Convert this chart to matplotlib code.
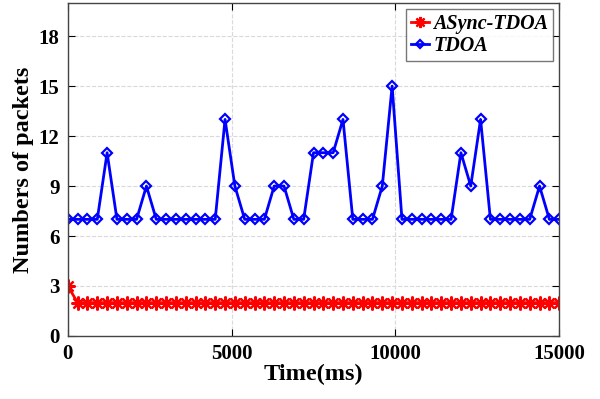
import numpy as np
import matplotlib
matplotlib.use("Agg")
import matplotlib.pyplot as plt

# время, мс (шаг 300)
time_ms = np.arange(0, 15001, 300)

async_tdoa = [3] + [2] * 50
tdoa = [7, 7, 7, 7, 11, 7, 7, 7, 9, 7,
        7, 7, 7, 7, 7, 7, 13, 9, 7, 7,
        7, 9, 9, 7, 7, 11, 11, 11, 13, 7,
        7, 7, 9, 15, 7, 7, 7, 7, 7, 7,
        11, 9, 13, 7, 7, 7, 7, 7, 9, 7,
        7]

plt.rcParams['font.family'] = ['Liberation Serif', 'DejaVu Serif']
plt.rcParams['font.weight'] = 'bold'

fig = plt.figure(figsize=(6, 3.99), dpi=100)
ax = fig.add_axes([0.113, 0.158, 0.819, 0.835])

ax.plot(time_ms, async_tdoa, color='red', lw=2, marker=(8, 2, 0),
        markersize=10, markeredgewidth=1.6, label='ASync-TDOA')
ax.plot(time_ms, tdoa, color='blue', lw=2, marker='D', markersize=5.5,
        markerfacecolor='none', markeredgewidth=1.6, label='TDOA')

ax.set_xlim(0, 15000)
ax.set_ylim(0, 20)
ax.set_xticks([0, 5000, 10000, 15000])
ax.set_yticks(range(0, 19, 3))
ax.tick_params(direction='in', top=True, right=True, labelsize=15, length=5, pad=6)
for lab in ax.get_xticklabels() + ax.get_yticklabels():
    lab.set_fontweight('bold')

ax.grid(True, ls='--', color='#d9d9d9', lw=0.8)
for s in ax.spines.values():
    s.set_color('#444444')
    s.set_linewidth(1)

ax.set_xlabel('Time(ms)', fontsize=17.5, fontweight='bold', labelpad=0)
ax.set_ylabel('Numbers of packets', fontsize=17.5, fontweight='bold', labelpad=3)

leg = ax.legend(loc='upper right', prop={'style': 'italic', 'weight': 'bold', 'size': 14.5},
                fancybox=False, edgecolor='#555555', handlelength=0.9,
                handletextpad=0.2, borderpad=0.25, labelspacing=0.1,
                borderaxespad=0.3, markerscale=0.8)
leg.get_frame().set_linewidth(1)

fig.savefig('out.png', dpi=100)
